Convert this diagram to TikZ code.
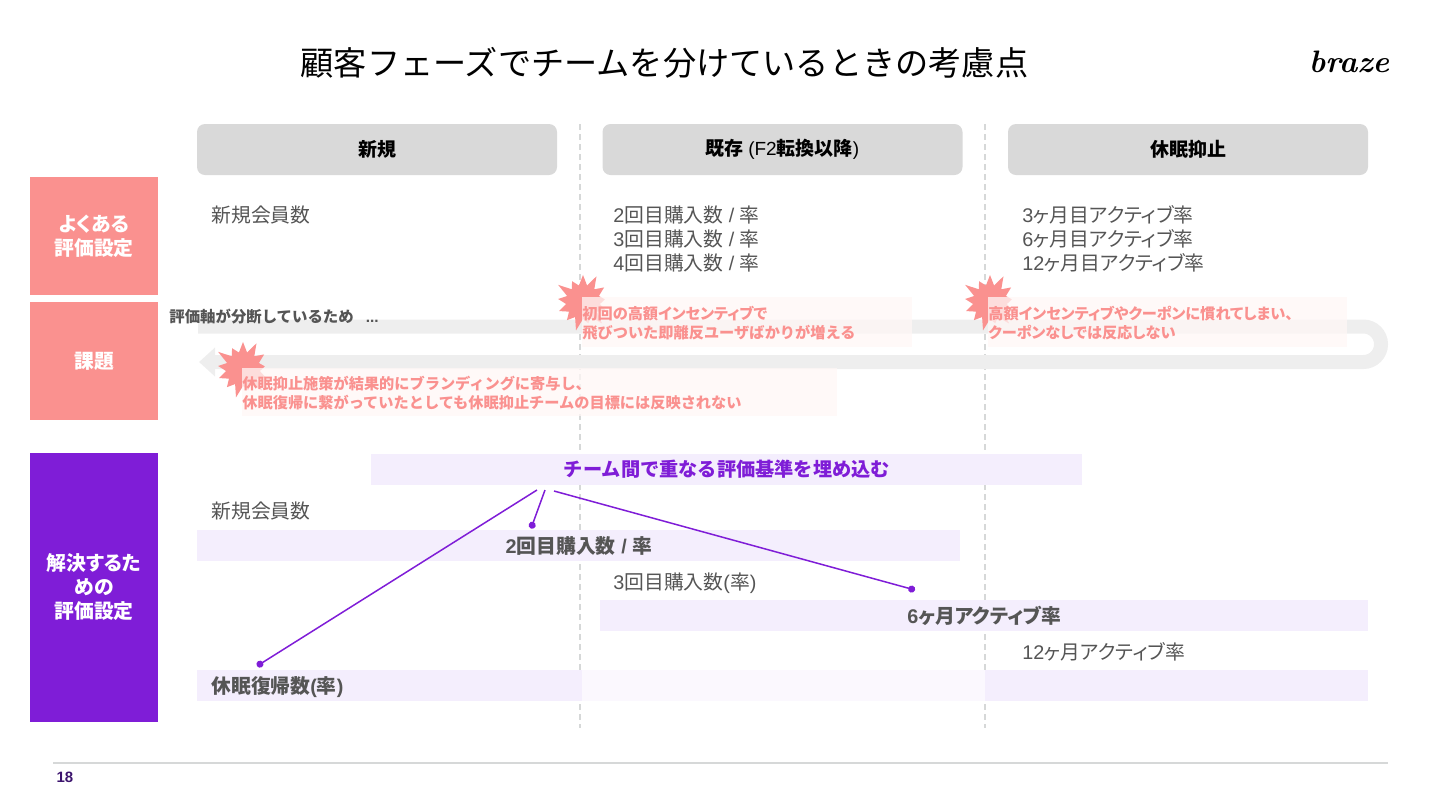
\documentclass[tikz,border=0pt]{standalone}
\usepackage{fontspec}
\usepackage{xcolor}
\usepackage{tikz}
\usetikzlibrary{arrows.meta,shapes.symbols}
\setmainfont{Noto Sans CJK JP}
\newfontfamily\kana{Noto Sans CJK JP}[RawFeature=+palt]
\newfontfamily\lsans{Liberation Sans}
\newfontfamily\logofont{Latin Modern Roman}
\newcommand{\la}[1]{{\lsans #1}}
\definecolor{issue}{RGB}{250,145,143}
\definecolor{solve}{RGB}{127,29,215}
\definecolor{band}{RGB}{244,238,253}
\definecolor{bandlight}{RGB}{251,248,254}
\definecolor{header}{RGB}{217,217,217}
\definecolor{divider}{RGB}{214,216,216}
\definecolor{flow}{RGB}{238,238,238}
\definecolor{notefill}{RGB}{255,247,246}
\definecolor{bodytext}{RGB}{85,85,85}
\definecolor{pagenum}{RGB}{60,20,110}
\tikzset{
    phase/.style = {fill=header, rounded corners=4pt, minimum width=180pt, minimum height=25.5pt, font=\fontsize{9.5}{12}\selectfont\bfseries},
    rowlabel/.style = {text=white, minimum width=64pt, align=center, font=\fontsize{9.9}{12}\selectfont\bfseries},
    body/.style = {anchor=north west, inner sep=0pt, align=left, text=bodytext, font=\fontsize{9.9}{12}\selectfont},
    bandbox/.style = {fill=band, anchor=west, minimum height=15.5pt, inner sep=0pt, text=bodytext, font=\fontsize{9.9}{12}\selectfont\bfseries},
    burst/.style = {shape=starburst, fill=issue, starburst points=13, starburst point height=7pt, minimum width=31pt, minimum height=31pt, inner sep=0pt},
    note/.style = {anchor=north west, fill=notefill, fill opacity=0.75, text opacity=1, inner sep=0pt, align=left, text=issue, font=\fontsize{7.6}{9.5}\selectfont\bfseries},
    link/.style = {draw=solve, line width=0.75pt, -{Circle[length=3.5pt]}},
    rule line/.style = {divider, dash pattern=on 3pt off 2pt, line width=0.6pt}
}
\begin{document}
\begin{tikzpicture}[x=0.5pt, y=-0.5pt]
    \useasboundingbox (0,0) rectangle (1440,810);

    \node[font=\fontsize{16.6}{20}\selectfont] (title) at (664.5,63) {顧客フェーズでチームを分けているときの考慮点};
    \node[font=\fontsize{15.5}{20}\selectfont\logofont\itshape\bfseries] (logo) at (1349,62) {braze};

    \draw[rule line] (580,124) -- (580,728);
    \draw[rule line] (985,124) -- (985,728);

    \node[phase] (new) at (377,149.5) {新規};
    \node[phase] (existing) at (782.5,149.5) {既存 \la{\mdseries (F2}転換以降\la{\mdseries )}};
    \node[phase] (dormant) at (1188,149.5) {休眠抑止};

    \node[rowlabel, fill=issue, minimum height=59pt] (typical) at (94,236) {{\kana よくある}\\評価設定};
    \node[rowlabel, fill=issue, minimum height=59pt] (problem) at (94,361) {課題};
    \node[rowlabel, fill=solve, minimum height=134.5pt] (solution) at (94,587.5) {{\kana 解決するた}\\{\kana めの}\\評価設定};

    \node[body] (kpinew) at (211,205) {新規会員数};
    \node[body] (kpiexisting) at (613,205) {\la{2}回目購入数\la{ / }率\\\la{3}回目購入数\la{ / }率\\\la{4}回目購入数\la{ / }率};
    \node[body] (kpidormant) at (1022,205) {{\kana\la{3}ヶ月目アクティブ率}\\{\kana\la{6}ヶ月目アクティブ率}\\{\kana\la{12}ヶ月目アクティブ率}};

    \draw[flow, line width=7pt, -{Triangle[length=8pt, width=14pt]}, rounded corners=8.8pt]
        (198,326.5) -- (1381,326.5) -- (1381,362) -- (199,362);

    \node[burst] (burstone) at (583,302) {};
    \node[burst] (bursttwo) at (990,302) {};
    \node[burst] (burstthree) at (243,369) {};

    \node[note, text width=165pt, minimum height=25pt] (noteone) at (582,297) {\rule{0pt}{7.5pt}{\kana 初回の高額インセンティブで}\\飛びついた即離反ユーザばかりが増える};
    \node[note, text width=179.5pt, minimum height=25pt] (notetwo) at (988,297) {\rule{0pt}{7.5pt}{\kana 高額インセンティブやクーポンに慣れてしまい、}\\{\kana クーポンなしでは反応しない}};
    \node[note, text width=297.5pt, minimum height=24pt] (notethree) at (242,368) {\rule{0pt}{7.5pt}休眠抑止施策が結果的にブランディングに寄与し、\\休眠復帰に繋がっていたとしても休眠抑止チームの目標には反映されない};

    \node[anchor=west, inner sep=0pt, text=bodytext, font=\fontsize{7.7}{9}\selectfont\bfseries] (splitnote) at (169,317) {評価軸が分断しているため \la{\ \ ...}};

    \node[bandbox, minimum width=355.5pt, text=solve, font=\fontsize{9.6}{12}\selectfont\bfseries] (overlap) at (371,469.5) {チーム間で重なる評価基準を埋め込む\hspace{1pt}};
    \node[body] (newagain) at (211,501) {新規会員数};
    \node[bandbox, minimum width=381.5pt] (second) at (197,545.5) {\la{\bfseries 2}回目購入数\la{\bfseries{} / }率};
    \node[body] (third) at (613,572) {\la{3}回目購入数\la{(}率\la{)}};
    \node[bandbox, minimum width=384pt] (sixmonth) at (600,615.5) {\kana\la{\bfseries 6}ヶ月アクティブ率};
    \node[body] (twelve) at (1022,642) {\kana\la{12}ヶ月アクティブ率};

    \node[bandbox, fill=bandlight, minimum width=201.5pt] (returnmid) at (582,685.5) {};
    \node[bandbox, minimum width=192.5pt] (returnleft) at (197,685.5) {};
    \node[bandbox, minimum width=191.5pt] (returnright) at (985,685.5) {};
    \node[anchor=west, inner sep=0pt, text=bodytext, font=\fontsize{9.9}{12}\selectfont\bfseries] (returnrate) at (211,687) {休眠復帰数\la{\bfseries (}率\la{\bfseries )}};

    \coordinate (linka) at (537,490);
    \coordinate (linkb) at (545,490);
    \coordinate (linkc) at (554,491);
    \coordinate (enda) at (257,666);
    \coordinate (endb) at (531,528.5);
    \coordinate (endc) at (915,590);
    \draw[link] (linka) -- (enda);
    \draw[link] (linkb) -- (endb);
    \draw[link] (linkc) -- (endc);

    \draw[divider, line width=0.9pt] (53,763) -- (1388,763);
    \node[inner sep=0pt, text=pagenum, font=\fontsize{7.5}{9}\selectfont\lsans\bfseries] (page) at (65,777) {18};
\end{tikzpicture}
\end{document}
